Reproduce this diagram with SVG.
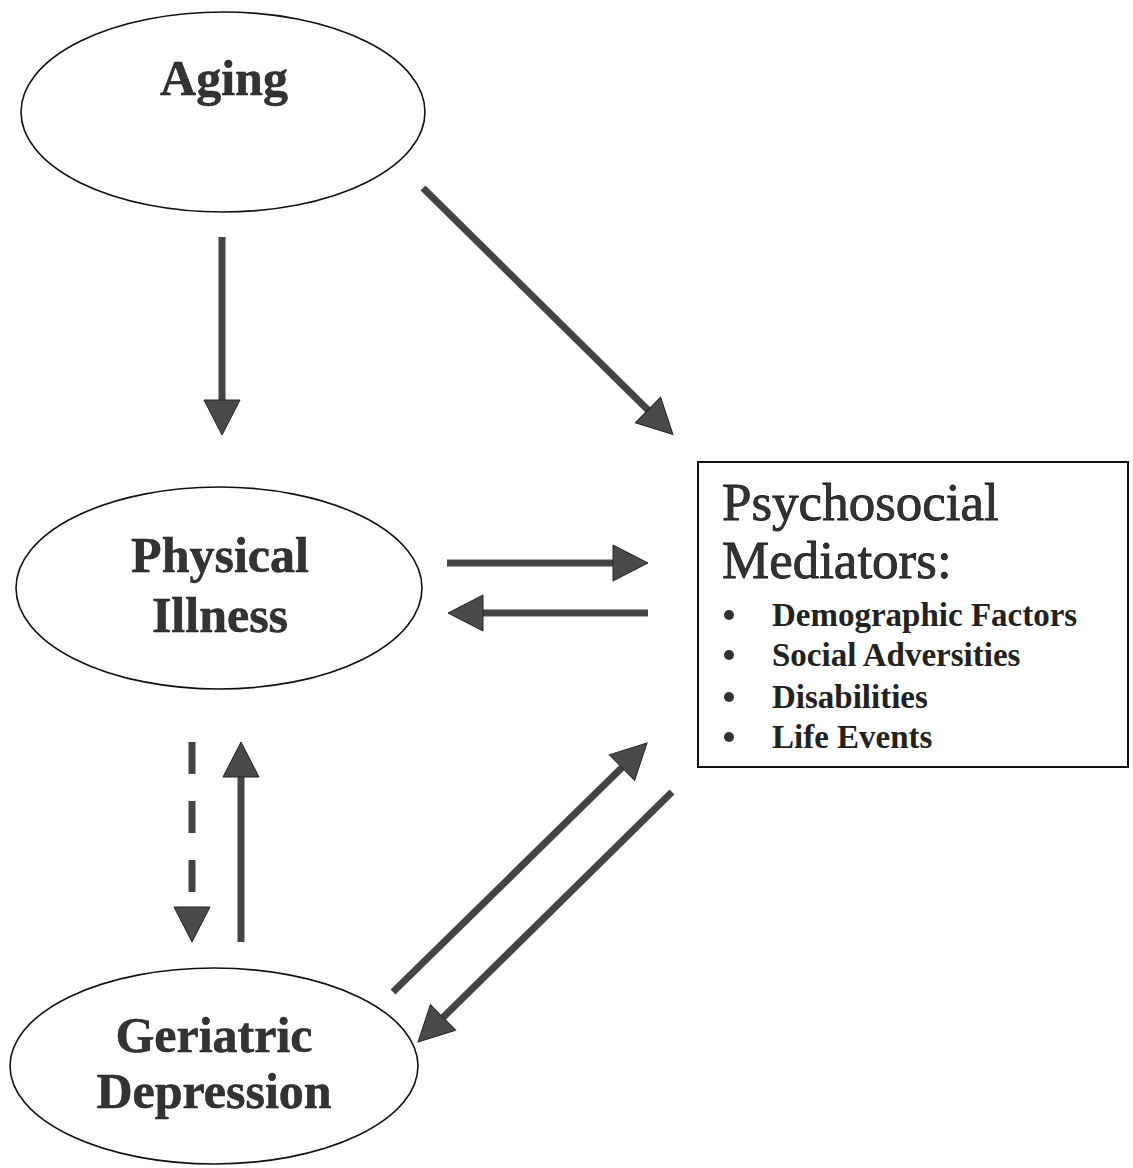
<svg xmlns="http://www.w3.org/2000/svg" width="1133" height="1168" viewBox="0 0 1133 1168">
<defs>
<style>
.node{fill:#fff;stroke:#111;stroke-width:1.6}
.t{font-family:"Liberation Serif","Times New Roman",serif;font-weight:bold;font-size:50px;fill:#333;stroke:#1a1a1a;stroke-width:0.5;text-anchor:middle}
.h{font-family:"Liberation Serif","Times New Roman",serif;font-size:53px;fill:#333;stroke:#1a1a1a;stroke-width:0.8}
.b{font-family:"Liberation Serif","Times New Roman",serif;font-weight:bold;font-size:33px;fill:#222}
.c{stroke:#444;stroke-width:7;fill:none}
</style>
<marker id="ah" markerUnits="userSpaceOnUse" markerWidth="36" markerHeight="38" refX="0" refY="18" orient="auto" viewBox="0 0 36 38" overflow="visible">
<path d="M0,0 L35,18 L0,36 z" fill="#4a4a4a" stroke="#222" stroke-width="1"/>
</marker>
</defs>
<rect width="1133" height="1168" fill="#fff"/>
<g id="aging">
<ellipse class="node" cx="223" cy="112" rx="202" ry="100"/>
<text class="t" x="224" y="95">Aging</text>
</g>
<g id="physical-illness">
<ellipse class="node" cx="219" cy="588" rx="203" ry="101"/>
<text class="t" x="220" y="572">Physical</text>
<text class="t" x="220" y="632">Illness</text>
</g>
<g id="geriatric-depression">
<ellipse class="node" cx="214" cy="1066" rx="204" ry="98"/>
<text class="t" x="214" y="1052">Geriatric</text>
<text class="t" x="214" y="1108">Depression</text>
</g>
<g id="psychosocial-mediators">
<rect x="698" y="462" width="430" height="305" fill="#fff" stroke="#111" stroke-width="2"/>
<text class="h" x="722" y="520">Psychosocial</text>
<text class="h" x="722" y="578">Mediators:</text>
<g fill="#333">
<circle cx="729" cy="615" r="5"/>
<circle cx="729" cy="655" r="5"/>
<circle cx="729" cy="697" r="5"/>
<circle cx="729" cy="737" r="5"/>
</g>
<text class="b" x="772" y="626">Demographic Factors</text>
<text class="b" x="772" y="666">Social Adversities</text>
<text class="b" x="772" y="708">Disabilities</text>
<text class="b" x="772" y="748">Life Events</text>
</g>
<g id="connectors">
<line class="c" x1="222" y1="237" x2="222" y2="400" marker-end="url(#ah)"/>
<line class="c" x1="423" y1="188" x2="648" y2="410" marker-end="url(#ah)"/>
<line class="c" x1="447" y1="563" x2="613" y2="563" marker-end="url(#ah)"/>
<line class="c" x1="648" y1="613" x2="483" y2="613" marker-end="url(#ah)"/>
<line class="c" x1="192" y1="742" x2="192" y2="907" stroke-dasharray="32 27" marker-end="url(#ah)"/>
<line class="c" x1="241" y1="942" x2="241" y2="777" marker-end="url(#ah)"/>
<line class="c" x1="393" y1="992" x2="622" y2="767.5" marker-end="url(#ah)"/>
<line class="c" x1="672" y1="792" x2="443" y2="1017.5" marker-end="url(#ah)"/>
</g>
</svg>
